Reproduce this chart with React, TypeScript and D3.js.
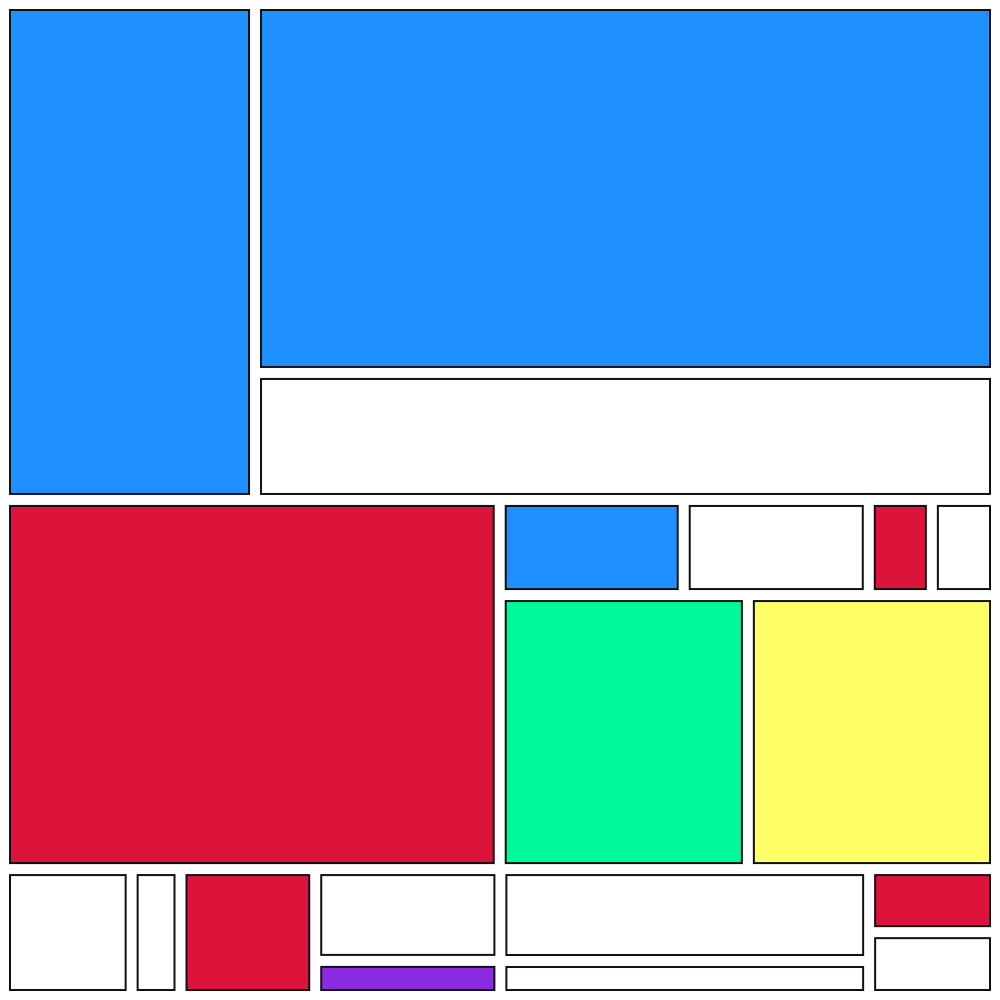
import { useEffect, useRef } from "react";
import * as d3 from "d3";

// hierarchy: ids + parents (groups first, then leaves)
const groupIds = ["root", "r1", "r1b", "r2", "r2b", "r2b1", "r2b2", "r3", "r3no", "r3pq", "r3rs"];
const groupParents = ["", "root", "r1", "root", "r2", "r2b", "r2b", "root", "r3", "r3", "r3"];

const leafIds = ["A", "B", "C", "D", "E", "F", "G", "H", "I", "J", "K", "L", "M", "N", "O", "P", "Q", "R", "S"];
const leafParents = ["r1", "r1b", "r1b", "r2", "r2b1", "r2b1", "r2b1", "r2b1", "r2b2", "r2b2", "r3", "r3", "r3", "r3no", "r3no", "r3pq", "r3pq", "r3rs", "r3rs"];
const leafValues = [124.5, 273.4, 94.1, 183.0, 17.5, 17.6, 6.0, 6.1, 68.0, 68.0, 16.2, 6.2, 17.1, 17.0, 6.5, 33.9, 12.9, 8.0, 8.1];
const leafCategories = ["blue", "blue", "none", "red", "blue", "none", "red", "none", "green", "yellow", "none", "none", "red", "none", "purple", "none", "none", "red", "none"];

// sibling order, left to right / top to bottom
const displayOrder = [
  "root",
  "r1", "A", "r1b", "B", "C",
  "r2", "D", "r2b", "r2b1", "E", "F", "G", "H", "r2b2", "I", "J",
  "r3", "K", "L", "M", "r3no", "N", "O", "r3pq", "P", "Q", "r3rs", "R", "S",
];

const categories = ["blue", "red", "green", "yellow", "purple", "none"];
const categoryColors = ["#1e90ff", "#dc143c", "#00fa9a", "#ffff66", "#8a2be2", "#ffffff"];

// groups that split side by side (the rest stack top to bottom)
const sideBySide = new Set(["r1", "r2", "r2b1", "r2b2", "r3"]);

interface Row {
  id: string;
  parent: string;
  value: number;
  category: string;
}

export default function App() {
  const svgRef = useRef<SVGSVGElement>(null);

  useEffect(() => {
    if (!svgRef.current) return;
    const svg = d3.select(svgRef.current);
    svg.selectAll("*").remove();

    const width = 1000;
    const height = 1000;

    const rows: Row[] = [
      ...groupIds.map((id, i) => ({ id, parent: groupParents[i], value: 0, category: "none" })),
      ...leafIds.map((id, i) => ({ id, parent: leafParents[i], value: leafValues[i], category: leafCategories[i] })),
    ].sort((a, b) => displayOrder.indexOf(a.id) - displayOrder.indexOf(b.id));

    const root = d3
      .stratify<Row>()
      .id((d) => d.id)
      .parentId((d) => (d.parent === "" ? null : d.parent))(rows)
      .sum((d) => d.value);

    const color = d3.scaleOrdinal<string, string>().domain(categories).range(categoryColors);

    d3
      .treemap<Row>()
      .size([width, height])
      .tile((node, x0, y0, x1, y1) => {
        if (sideBySide.has(node.data.id)) d3.treemapDice(node, x0, y0, x1, y1);
        else d3.treemapSlice(node, x0, y0, x1, y1);
      })
      .paddingInner(12)
      .paddingOuter((n) => (n.depth === 0 ? 10 : 0))(root);

    const leaves = root.leaves() as d3.HierarchyRectangularNode<Row>[];

    svg
      .selectAll("rect")
      .data(leaves)
      .enter()
      .append("rect")
      .attr("x", (d) => d.x0)
      .attr("y", (d) => d.y0)
      .attr("width", (d) => d.x1 - d.x0)
      .attr("height", (d) => d.y1 - d.y0)
      .attr("fill", (d) => color(d.data.category))
      .attr("stroke", "#111")
      .attr("stroke-width", 2);
  }, []);

  return (
    <div style={{ position: "absolute", left: 0, top: 0 }}>
      <svg ref={svgRef} width={1000} height={1000} style={{ display: "block" }}></svg>
    </div>
  );
}
